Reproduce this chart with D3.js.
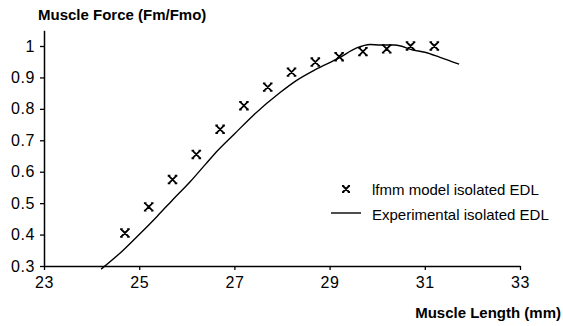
<!DOCTYPE html>
<html>
<head>
<meta charset="utf-8">
<script src="https://cdn.jsdelivr.net/npm/d3@7"></script>
<style>
  body { margin: 0; background: #fff; }
  svg { display: block; }
  text { font-family: "Liberation Sans", Arial, sans-serif; fill: #000; }
</style>
</head>
<body>
<svg id="chart"></svg>
<script>
// model points (Ifmm model isolated EDL)
const modelLength = [24.7, 25.2, 25.7, 26.2, 26.7, 27.2, 27.7, 28.2, 28.7, 29.2, 29.7, 30.2, 30.7, 31.2];
const modelForce = [0.405, 0.488, 0.575, 0.655, 0.735, 0.81, 0.869, 0.917, 0.949, 0.966, 0.982, 0.991, 1.0, 1.0];

// experimental curve
const expLength = [24.2, 24.67, 25.0, 25.37, 25.7, 26.07, 26.4, 26.66, 27.0, 27.4, 27.96, 28.3, 28.69, 29.2, 29.57, 29.85, 30.06, 30.37, 30.76, 31.0, 31.32, 31.72];
const expForce = [0.29, 0.351, 0.40, 0.457, 0.51, 0.568, 0.625, 0.669, 0.72, 0.78, 0.852, 0.89, 0.924, 0.962, 0.994, 1.005, 1.003, 1.003, 0.987, 0.98, 0.964, 0.942];

const xTicks = [23, 25, 27, 29, 31, 33];
const yTicks = [0.3, 0.4, 0.5, 0.6, 0.7, 0.8, 0.9, 1];

const legendLabels = ["lfmm model isolated EDL", "Experimental isolated EDL"];

const width = 563, height = 326;
const svg = d3.select("#chart").attr("width", width).attr("height", height);

const x = d3.scaleLinear().domain([23, 33]).range([44, 520]);
const y = d3.scaleLinear().domain([0.3, 1]).range([266, 46]);
const yTop = 1.05;

// axes
const xAxis = svg.append("g")
    .attr("transform", `translate(0, ${y(0.3)})`)
    .call(d3.axisBottom(x).tickValues(xTicks).tickSize(4).tickSizeOuter(0).tickPadding(7).tickFormat(d3.format("d")));

const yScaleAxis = y.copy().domain([0.3, yTop]).range([y(0.3), y(yTop)]);
const yAxis = svg.append("g")
    .attr("transform", `translate(${x(23)}, 0)`)
    .call(d3.axisLeft(yScaleAxis).tickValues(yTicks).tickSize(4).tickSizeOuter(0).tickPadding(5)
        .tickFormat(d => d === 1 ? "1" : d3.format(".1f")(d)));

[xAxis, yAxis].forEach(a => {
    a.select(".domain").attr("stroke", "#000").attr("stroke-width", 1.5);
    a.selectAll(".tick line").attr("stroke", "#000").attr("stroke-width", 1.3);
    a.selectAll(".tick text")
        .attr("font-size", 16)
        .attr("letter-spacing", 0.6)
        .attr("font-family", "Liberation Sans, Arial, sans-serif")
        .attr("fill", "#000");
});

// experimental line
const expData = expLength.map((d, i) => [d, expForce[i]]);
const line = d3.line()
    .x(d => x(d[0]))
    .y(d => y(d[1]))
    .curve(d3.curveMonotoneX);

svg.append("path")
    .datum(expData)
    .attr("fill", "none")
    .attr("stroke", "#000")
    .attr("stroke-width", 1.4)
    .attr("d", line);

// model markers: an x with small serifs at its ends
const markerPath = "M-3.5,-3.5L3.5,3.5M3.5,-3.5L-3.5,3.5M-4.8,-3.8H-2.2M2.2,-3.8H4.8M-4.8,3.8H-2.2M2.2,3.8H4.8";
const modelData = modelLength.map((d, i) => [d, modelForce[i]]);

svg.append("g")
    .selectAll("path")
    .data(modelData)
    .join("path")
    .attr("transform", d => `translate(${x(d[0])}, ${y(d[1])})`)
    .attr("d", markerPath)
    .attr("fill", "none")
    .attr("stroke", "#000")
    .attr("stroke-width", 1.8);

// axis titles
svg.append("text")
    .attr("x", 38)
    .attr("y", 20)
    .attr("font-size", 15)
    .attr("font-weight", "bold")
    .text("Muscle Force (Fm/Fmo)");

svg.append("text")
    .attr("x", 561)
    .attr("y", 318)
    .attr("text-anchor", "end")
    .attr("font-size", 15)
    .attr("font-weight", "bold")
    .text("Muscle Length (mm)");

// legend
const legend = svg.append("g");
legend.append("path")
    .attr("transform", "translate(346, 189)")
    .attr("d", "M-3,-3L3,3M3,-3L-3,3M-4,-3.2H-1.8M1.8,-3.2H4M-4,3.2H-1.8M1.8,3.2H4")
    .attr("fill", "none")
    .attr("stroke", "#000")
    .attr("stroke-width", 1.8);
legend.append("line")
    .attr("x1", 331).attr("x2", 361)
    .attr("y1", 213).attr("y2", 213)
    .attr("stroke", "#000")
    .attr("stroke-width", 1.4);
legend.selectAll("text.lab")
    .data(legendLabels)
    .join("text")
    .attr("class", "lab")
    .attr("x", 372)
    .attr("y", (d, i) => 195 + i * 25)
    .attr("font-size", 15)
    .text(d => d);
</script>
</body>
</html>
